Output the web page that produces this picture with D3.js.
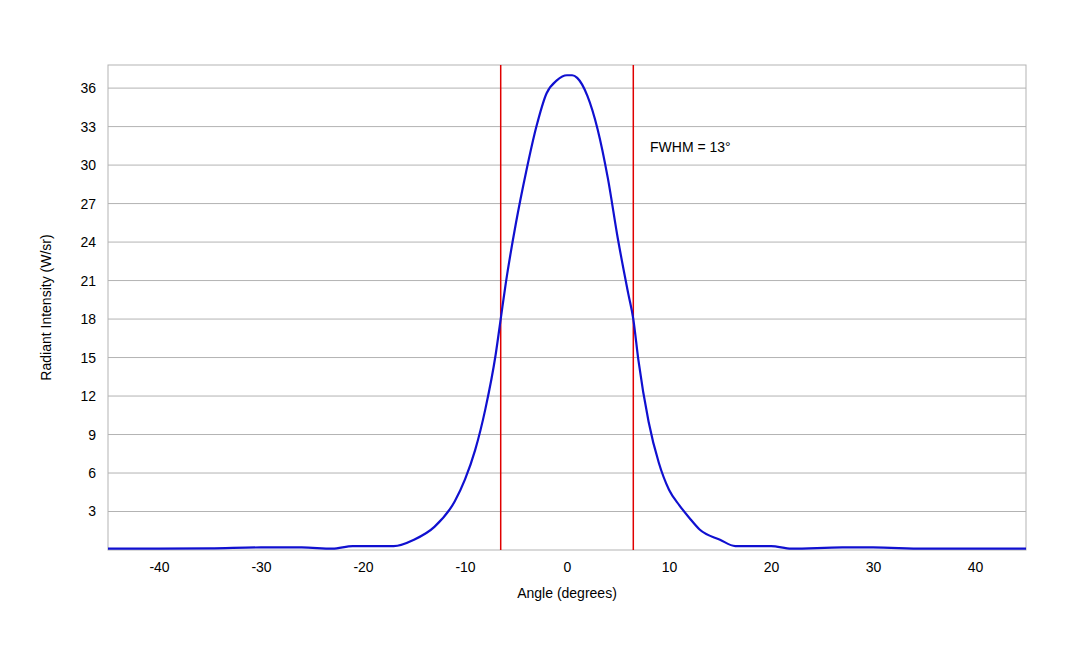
<!DOCTYPE html>
<html>
<head>
<meta charset="UTF-8">
<script src="https://cdn.jsdelivr.net/npm/d3@7"></script>
<style>
body { margin: 0; background: #fff; }
text { font-family: "Liberation Sans", Arial, sans-serif; font-size: 14px; fill: #000; }
</style>
</head>
<body>
<svg id="chart" width="1080" height="648"></svg>
<script>
var angles = [-45, -40, -35, -30, -26, -23, -21, -17, -15, -13, -11, -10, -9, -8, -7, -6.5, -6, -5, -4, -3, -2, -1, 0, 0.5, 1, 2, 3, 4, 5, 6, 6.5, 7, 8, 9, 10, 11, 12, 13, 15, 16.5, 20, 22, 27, 30, 35, 40, 45];
var intensity = [0.1, 0.1, 0.12, 0.2, 0.2, 0.1, 0.3, 0.3, 0.8, 1.8, 3.8, 5.5, 7.8, 11, 15.2, 18, 20.8, 25.5, 29.5, 33, 35.6, 36.6, 37, 37, 36.8, 35.4, 32.8, 29, 24.2, 20, 18, 14.8, 10, 6.8, 4.7, 3.5, 2.5, 1.6, 0.8, 0.3, 0.3, 0.1, 0.2, 0.2, 0.1, 0.1, 0.1];
var yTicks = [3, 6, 9, 12, 15, 18, 21, 24, 27, 30, 33, 36];
var xTicks = [-40, -30, -20, -10, 0, 10, 20, 30, 40];
var fwhm = [-6.5, 6.5];

var svg = d3.select("#chart");
var L = 108, R = 1026, T = 65, B = 550;
var x = d3.scaleLinear().domain([-45, 45]).range([L, R]);
var y = d3.scaleLinear().domain([0, 37.8]).range([B, T]);

svg.append("g").selectAll("line").data(yTicks).enter().append("line")
  .attr("x1", L).attr("x2", R)
  .attr("y1", function(d) { return y(d); }).attr("y2", function(d) { return y(d); })
  .attr("stroke", "#b3b3b3");

svg.append("rect").attr("x", L).attr("y", T).attr("width", R - L).attr("height", B - T)
  .attr("fill", "none").attr("stroke", "#b3b3b3");

var ya = svg.append("g").attr("transform", "translate(" + L + ",0)")
  .call(d3.axisLeft(y).tickValues(yTicks).tickSize(0).tickPadding(12));
ya.select(".domain").remove();
ya.selectAll("text").style("font-size", "14px").style("font-family", "Liberation Sans, Arial, sans-serif");

var xa = svg.append("g").attr("transform", "translate(0," + B + ")")
  .call(d3.axisBottom(x).tickValues(xTicks).tickSize(0).tickPadding(12)
    .tickFormat(function(d) { return String(d); }));
xa.select(".domain").remove();
xa.selectAll("text").style("font-size", "14px").style("font-family", "Liberation Sans, Arial, sans-serif");

svg.append("g").selectAll("line").data(fwhm).enter().append("line")
  .attr("x1", function(d) { return x(d); }).attr("x2", function(d) { return x(d); })
  .attr("y1", T).attr("y2", B).attr("stroke", "#e00000").attr("stroke-width", 1.5);

var line = d3.line().x(function(d, i) { return x(angles[i]); })
  .y(function(d) { return y(d); }).curve(d3.curveMonotoneX);
svg.append("path").datum(intensity).attr("d", line)
  .attr("fill", "none").attr("stroke", "#1010d0").attr("stroke-width", 2.2);

svg.append("text").attr("x", 650).attr("y", 152).text("FWHM = 13°");
svg.append("text").attr("x", (L + R) / 2).attr("y", 598).attr("text-anchor", "middle").text("Angle (degrees)");
svg.append("text").attr("transform", "translate(51," + ((T + B) / 2) + ") rotate(-90)")
  .attr("text-anchor", "middle").text("Radiant Intensity (W/sr)");
</script>
</body>
</html>
